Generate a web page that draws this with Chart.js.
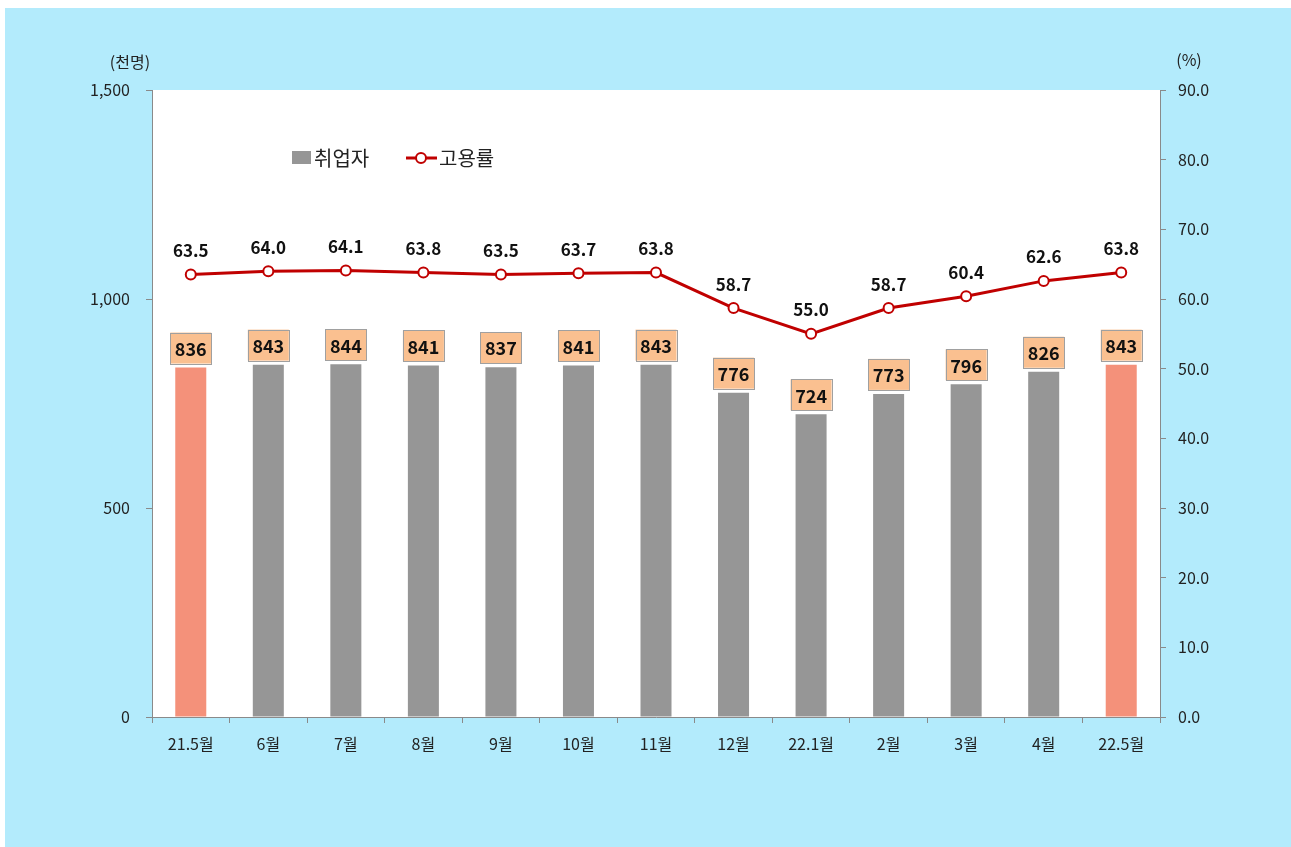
<!DOCTYPE html>
<html>
<head>
<meta charset="utf-8">
<script src="https://cdn.jsdelivr.net/npm/chart.js@4"></script>
<style>
html,body{margin:0;padding:0;background:#fff;}
canvas{display:block;}
</style>
</head>
<body>
<canvas id="c" width="1291" height="847"></canvas>
<script>
const categories = ['21.5월','6월','7월','8월','9월','10월','11월','12월','22.1월','2월','3월','4월','22.5월'];
const employed = [836,843,844,841,837,841,843,776,724,773,796,826,843];
const employmentRate = [63.5,64.0,64.1,63.8,63.5,63.7,63.8,58.7,55.0,58.7,60.4,62.6,63.8];
const leftTicks = [0,500,1000,1500];
const rightTicks = [0,10,20,30,40,50,60,70,80,90];
const barColors = employed.map((v,i)=> (i===0||i===employed.length-1) ? '#F4917A' : '#969696');

const FONT = '"Noto Sans CJK KR","Noto Sans",sans-serif';

const bgPlugin = {
  id:'bg',
  beforeDraw(chart){
    const {ctx, chartArea:a} = chart;
    ctx.save();
    ctx.fillStyle='#fff';
    ctx.fillRect(0,0,chart.width,chart.height);
    ctx.fillStyle='#B3EBFC';
    ctx.fillRect(5,8,chart.width-5,chart.height-8);
    ctx.fillStyle='#fff';
    ctx.fillRect(a.left,a.top,a.right-a.left,a.bottom-a.top);
    ctx.restore();
  }
};

const labelPlugin = {
  id:'labels',
  afterDatasetsDraw(chart){
    const {ctx} = chart;
    ctx.save();
    // bar labels
    const bm = chart.getDatasetMeta(1);
    ctx.font = 'bold 18px ' + FONT;
    ctx.textAlign='center'; ctx.textBaseline='middle';
    bm.data.forEach((el,i)=>{
      const w=41,h=31;
      const x=el.x, yb=el.y-4;
      ctx.fillStyle='#FAC090';
      ctx.fillRect(x-w/2,yb-h,w,h);
      ctx.strokeStyle='#A0A0A0'; ctx.lineWidth=1;
      ctx.strokeRect(Math.round(x-w/2)+0.5,Math.round(yb-h)+0.5,w,h);
      ctx.fillStyle='#111';
      ctx.fillText(String(employed[i]), x, yb-h/2+1);
    });
    // line labels
    const lm = chart.getDatasetMeta(0);
    ctx.font = 'bold 17px ' + FONT;
    lm.data.forEach((el,i)=>{
      ctx.fillStyle='#111';
      ctx.fillText(employmentRate[i].toFixed(1), el.x, el.y-24);
    });
    // axis titles
    ctx.font = '16px ' + FONT;
    ctx.fillStyle='#222';
    ctx.fillText('(천명)', 130, 62);
    ctx.fillText('(%)', 1189, 60);
    // legend
    ctx.fillStyle='#969696';
    ctx.fillRect(292,151,19,13);
    ctx.font='20px ' + FONT;
    ctx.textAlign='left';
    ctx.fillStyle='#222';
    ctx.fillText('취업자', 314, 158);
    ctx.strokeStyle='#C00000'; ctx.lineWidth=3;
    ctx.beginPath(); ctx.moveTo(406,158); ctx.lineTo(437,158); ctx.stroke();
    ctx.beginPath(); ctx.arc(421,158,5,0,Math.PI*2);
    ctx.fillStyle='#fff'; ctx.fill(); ctx.lineWidth=2; ctx.stroke();
    ctx.fillStyle='#222';
    ctx.fillText('고용률', 439, 158);
    ctx.restore();
  }
};

new Chart(document.getElementById('c'), {
  type:'bar',
  data:{
    labels:categories,
    datasets:[
      {
        type:'line', label:'고용률', data:employmentRate, yAxisID:'y2',
        borderColor:'#C00000', borderWidth:3, backgroundColor:'#fff',
        pointRadius:5, pointBorderWidth:2, pointBackgroundColor:'#fff', pointBorderColor:'#C00000',
        tension:0, order:0
      },
      {
        type:'bar', label:'취업자', data:employed, yAxisID:'y',
        backgroundColor:barColors, barPercentage:0.5, categoryPercentage:0.8, order:1
      }
    ]
  },
  options:{
    responsive:false, animation:false,
    layout:{padding:{top:90,left:0,right:0,bottom:0}},
    plugins:{legend:{display:false}, tooltip:{enabled:false}},
    scales:{
      x:{
        offset:true,
        grid:{offset:true, drawOnChartArea:false, drawTicks:true, tickLength:6, color:'#8a8a8a'},
        border:{display:true,color:'#8a8a8a'},
        ticks:{color:'#222', font:{family:FONT,size:16}, padding:11, maxRotation:0},
        afterFit(s){ s.height = 130; }
      },
      y:{
        position:'left', min:0, max:1500,
        afterBuildTicks(s){ s.ticks = leftTicks.map(v=>({value:v})); },
        grid:{drawOnChartArea:false, drawTicks:true, tickLength:6, color:'#8a8a8a'},
        border:{display:true,color:'#8a8a8a'},
        ticks:{color:'#222', font:{family:FONT,size:16}, padding:16,
          callback:v=>v.toLocaleString('en-US')},
        afterFit(s){ s.width = 152; }
      },
      y2:{
        position:'right', min:0, max:90,
        afterBuildTicks(s){ s.ticks = rightTicks.map(v=>({value:v})); },
        grid:{drawOnChartArea:false, drawTicks:true, tickLength:6, color:'#8a8a8a'},
        border:{display:true,color:'#8a8a8a'},
        ticks:{color:'#222', font:{family:FONT,size:16}, padding:12,
          callback:v=>Number(v).toFixed(1)},
        afterFit(s){ s.width = 131; }
      }
    }
  },
  plugins:[bgPlugin,labelPlugin]
});
</script>
</body>
</html>
